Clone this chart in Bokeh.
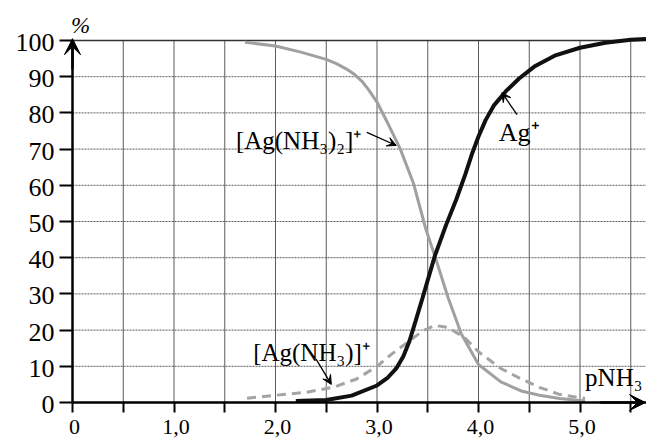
from bokeh.plotting import figure
from bokeh.models import Range1d, FixedTicker, Arrow, VeeHead, Label, LinearAxis
from bokeh.core.properties import value
from bokeh.embed import file_html
from bokeh.resources import INLINE

# ---------------- data ----------------
x_major_ticks = [0, 1, 2, 3, 4, 5]
x_tick_labels = ["0", "1,0", "2,0", "3,0", "4,0", "5,0"]
x_minor_ticks = [0.5, 1.5, 2.5, 3.5, 4.5, 5.5]
y_ticks = [0, 10, 20, 30, 40, 50, 60, 70, 80, 90, 100]
y_tick_labels = ["0", "10", "20", "30", "40", "50", "60", "70", "80", "90", "100"]

# [Ag(NH3)2]+
pnh3_diammine = [1.70, 2.00, 2.25, 2.50, 2.60, 2.70, 2.78, 2.85, 2.92, 3.00, 3.10, 3.23,
                 3.36, 3.48, 3.57, 3.70, 3.83, 4.00, 4.22, 4.42, 4.60, 4.80, 5.05]
pct_diammine = [99.5, 98.5, 96.8, 94.8, 93.6, 92.1, 90.6, 88.8, 86.3, 83.0, 77.5, 70.0,
                60.5, 48.0, 40.5, 29.0, 19.0, 10.5, 5.7, 3.2, 2.0, 1.1, 0.4]

# Ag+
pnh3_free = [2.20, 2.50, 2.75, 3.00, 3.10, 3.19, 3.26, 3.32, 3.38, 3.45, 3.57, 3.68,
             3.78, 3.87, 3.94, 4.00, 4.07, 4.15, 4.27, 4.40, 4.55, 4.75, 5.00, 5.25,
             5.50, 5.65]
pct_free = [0.4, 0.7, 1.9, 4.7, 6.7, 9.4, 12.8, 17.0, 22.5, 29.0, 40.5, 49.0,
            56.0, 63.0, 69.0, 73.5, 78.0, 82.0, 86.0, 89.5, 92.8, 95.8, 98.0, 99.4,
            100.2, 100.4]

# [Ag(NH3)]+
pnh3_mono = [1.72, 2.00, 2.30, 2.57, 2.80, 3.00, 3.15, 3.32, 3.45, 3.57, 3.70, 3.86,
             4.00, 4.22, 4.42, 4.60, 4.79, 5.05]
pct_mono = [1.2, 2.0, 2.8, 4.2, 6.5, 10.0, 13.5, 17.0, 19.8, 21.3, 20.7, 18.0,
            14.0, 9.4, 6.5, 4.2, 2.3, 1.1]

# ---------------- layout ----------------
W, H = 646, 441
X_PX, Y_PX = 101.5, 3.62          # pixels per unit
X0_PX, Y0_PX = 72, 402            # position of the origin inside the figure
x_start, x_end = -X0_PX / X_PX, (W - X0_PX) / X_PX
y_start, y_end = -(H - Y0_PX) / Y_PX, Y0_PX / Y_PX

SERIF = "Liberation Serif"

p = figure(width=W, height=H, x_range=Range1d(x_start, x_end), y_range=Range1d(y_start, y_end),
           output_backend="svg", toolbar_location=None,
           x_axis_location=None, y_axis_location=None, min_border=0)
p.outline_line_color = None
p.xgrid.visible = False
p.ygrid.visible = False
p.background_fill_color = "white"
p.border_fill_color = "white"

# grid (limited to the 0..100 region, derived from the tick lists)
vgrid = sorted(x_major_ticks + x_minor_ticks)[1:]
p.segment(x0=vgrid, y0=[y_ticks[0]] * len(vgrid), x1=vgrid, y1=[y_ticks[-1]] * len(vgrid),
          line_color="#4a4a4a", line_width=1, line_alpha=0.9)
hgrid = y_ticks[1:]
p.segment(x0=[0] * len(hgrid), y0=hgrid, x1=[x_end] * len(hgrid), y1=hgrid,
          line_color="#4a4a4a", line_width=1, line_dash="2 1", line_alpha=0.9)
p.segment(x0=[0], y0=[y_ticks[-1]], x1=[x_end], y1=[y_ticks[-1]], line_color="#333333", line_width=1.5)

# curves
p.line(pnh3_mono, pct_mono, line_color="#a4a4a4", line_width=3, line_dash="9 6")
p.line(pnh3_diammine, pct_diammine, line_color="#a0a0a0", line_width=3)
p.line(pnh3_free, pct_free, line_color="#111111", line_width=4)

# axes (lines and ticks; tick labels drawn as serif text below)
xaxis = LinearAxis(fixed_location=0,
                   ticker=FixedTicker(ticks=x_major_ticks, minor_ticks=x_minor_ticks),
                   major_label_overrides={t: "" for t in x_major_ticks},
                   bounds=(0, x_end),
                   axis_line_width=2.5, axis_line_color="black",
                   major_tick_line_width=2, major_tick_out=10, major_tick_in=0,
                   minor_tick_line_width=2, minor_tick_out=10, minor_tick_in=0,
                   major_label_text_font_size="0px")
p.add_layout(xaxis, "below")

yaxis = LinearAxis(fixed_location=0,
                   ticker=FixedTicker(ticks=y_ticks, minor_ticks=[]),
                   major_label_overrides={t: "" for t in y_ticks},
                   bounds=(0, 100),
                   axis_line_width=2.5, axis_line_color="black",
                   major_tick_line_width=2, major_tick_out=13, major_tick_in=0,
                   minor_tick_out=0, minor_tick_in=0,
                   major_label_text_font_size="0px")
p.add_layout(yaxis, "left")

p.text(x=x_major_ticks, y=[0] * len(x_major_ticks), text=x_tick_labels,
       text_font=value(SERIF), text_font_size="22px", text_color="black",
       text_align="center", text_baseline="alphabetic", x_offset=2, y_offset=24)
p.text(x=[0] * len(y_ticks), y=y_ticks, text=y_tick_labels,
       text_font=value(SERIF), text_font_size="26px", text_color="black",
       text_align="right", text_baseline="middle", x_offset=-18, y_offset=2)

# axis arrows
p.add_layout(Arrow(end=VeeHead(size=16, fill_color="black", line_color="black"),
                   x_start=0, y_start=92, x_end=0, y_end=100.5,
                   line_width=2.5, line_color="black"))
p.add_layout(Arrow(end=VeeHead(size=16, fill_color="black", line_color="black"),
                   x_start=5.2, y_start=0, x_end=x_end - 0.01, y_end=0,
                   line_width=2.5, line_color="black"))

# labels
def add_label(x, y, text, size="25px", align="left", style="normal"):
    p.add_layout(Label(x=x, y=y, text=text, text_font=SERIF, text_font_size=size,
                       text_font_style=style, text_color="black", text_align=align,
                       text_baseline="alphabetic"))

add_label(1.61, 72.4, "[Ag(NH\u2083)\u2082]\u207a")
add_label(4.20, 74.6, "Ag\u207a", size="26px")
add_label(1.78, 13.8, "[Ag(NH\u2083)]\u207a")
add_label(5.05, 6.9, "pNH\u2083", size="25px")
add_label(0.08, 104.1, "%", size="23px", align="center", style="italic")

# pointer arrows
def pointer(xs, ys, xe, ye):
    p.add_layout(Arrow(end=VeeHead(size=9, fill_color="black", line_color="black"),
                       x_start=xs, y_start=ys, x_end=xe, y_end=ye,
                       line_width=1.3, line_color="black"))

pointer(2.90, 74.6, 3.19, 71.0)
pointer(4.38, 79.5, 4.23, 85.6)
pointer(2.40, 12.0, 2.55, 5.0)

open("out.html", "w").write(file_html(p, INLINE))
